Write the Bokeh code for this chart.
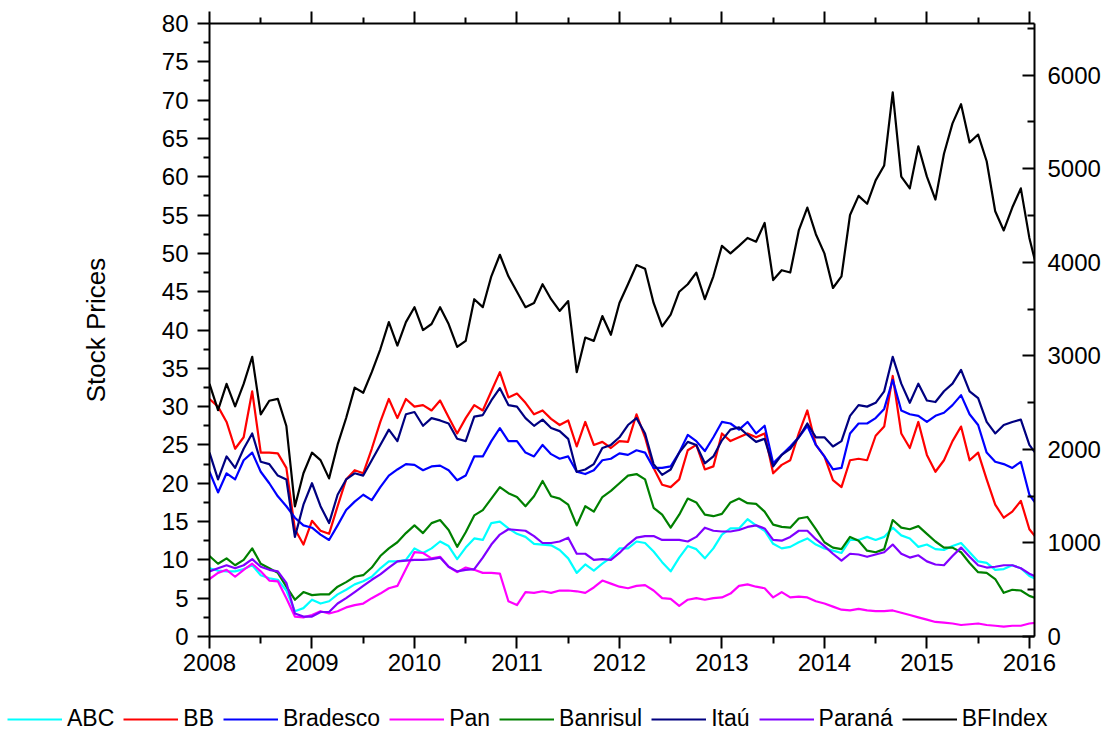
import pandas as pd
from bokeh.plotting import figure
from bokeh.models import (Range1d, LinearAxis, FixedTicker, Legend, LegendItem,
                          CustomJSTickFormatter, BasicTickFormatter)
from bokeh.embed import file_html
from bokeh.resources import INLINE

# monthly sample dates (Jan 2008 .. Feb 2016)
months = pd.date_range("2008-01-01", periods=98, freq="MS")
t = list(months.year + (months.month - 1) / 12.0)

abc = [8.9, 8.6, 8.5, 8.5, 8.8, 9.3, 8.0, 7.6, 7.4, 6.0, 3.3, 3.7, 4.8, 4.3, 4.6, 5.5, 6.1, 6.8, 7.2, 7.8, 8.9, 9.8, 9.8, 10.0, 11.5,
       10.9, 11.5, 12.4, 11.8, 10.1, 11.6, 12.8, 12.6, 14.8, 15.0, 14.1, 13.4, 13.0, 12.1, 12.0, 11.9, 11.3, 10.2, 8.3, 9.4, 8.6, 9.5, 10.3, 11.5,
       11.5, 12.4, 12.2, 11.1, 9.7, 8.5, 10.3, 11.8, 11.4, 10.2, 11.5, 13.3, 14.1, 14.1, 15.3, 14.5, 13.8, 12.1, 11.5, 11.7, 12.3, 12.8, 12.0, 11.5,
       11.2, 10.9, 12.6, 12.6, 13.0, 12.6, 13.0, 14.2, 13.2, 12.8, 11.7, 12.0, 11.4, 11.3, 11.8, 12.2, 11.0, 9.8, 9.6, 8.7, 8.8, 9.3, 8.9, 7.9, 7.4]

bb = [31.0, 30.0, 28.0, 24.5, 26.0, 32.0, 24.0, 24.0, 23.9, 22.0, 14.0, 12.0, 15.1, 13.8, 13.4, 17.0, 20.5, 21.7, 21.3, 24.5, 28.0, 31.0, 28.5, 31.0, 30.0,
      30.2, 29.5, 30.8, 28.6, 26.5, 28.5, 30.2, 29.5, 32.0, 34.5, 31.2, 31.7, 30.5, 29.0, 29.5, 28.4, 27.6, 28.2, 24.8, 28.0, 25.0, 25.4, 24.6, 25.5,
      25.4, 29.0, 26.0, 22.0, 19.8, 19.5, 20.5, 24.3, 25.0, 21.8, 22.2, 26.5, 25.5, 26.0, 26.5, 26.0, 26.5, 21.3, 22.4, 23.0, 26.5, 29.5, 25.0, 23.5,
      20.4, 19.5, 23.0, 23.2, 23.0, 26.2, 27.4, 34.0, 26.5, 24.6, 28.0, 23.7, 21.5, 23.0, 25.5, 27.4, 23.0, 24.0, 20.5, 17.2, 15.5, 16.3, 17.7, 14.0, 12.6]

bradesco = [21.5, 18.8, 21.3, 20.5, 23.0, 24.0, 21.5, 20.0, 18.3, 17.0, 15.5, 14.5, 14.2, 13.3, 12.6, 14.5, 16.5, 17.6, 18.5, 17.8, 19.5, 21.0, 21.8, 22.5, 22.4,
            21.7, 22.2, 22.3, 21.7, 20.4, 21.0, 23.5, 23.5, 25.5, 27.2, 25.5, 25.5, 24.0, 23.5, 25.0, 23.8, 23.2, 23.5, 21.5, 21.2, 21.7, 23.0, 23.2, 23.9,
            23.7, 24.3, 24.0, 22.0, 22.0, 22.2, 24.0, 26.3, 25.5, 24.2, 26.0, 28.0, 27.8, 27.0, 28.0, 26.5, 27.5, 22.6, 23.7, 24.8, 26.0, 27.5, 25.0, 23.5,
            21.8, 22.0, 26.5, 27.8, 27.8, 28.5, 29.7, 33.5, 29.5, 29.0, 28.8, 28.0, 28.8, 29.2, 30.2, 31.5, 29.0, 27.6, 24.0, 22.8, 22.5, 22.0, 22.8, 18.5, 17.0]

pan = [7.5, 8.3, 8.7, 7.8, 8.7, 9.5, 8.5, 7.3, 7.2, 5.0, 2.6, 2.5, 2.8, 3.3, 3.0, 3.3, 3.8, 4.1, 4.3, 5.0, 5.6, 6.3, 6.6, 8.8, 11.0,
       10.9, 10.2, 10.4, 9.1, 8.4, 9.0, 8.7, 8.3, 8.3, 8.2, 4.6, 4.1, 5.8, 5.7, 5.9, 5.7, 6.0, 6.0, 5.9, 5.7, 6.4, 7.3, 6.9, 6.5,
       6.3, 6.6, 6.7, 6.0, 5.0, 4.9, 4.0, 4.8, 5.0, 4.8, 5.0, 5.1, 5.6, 6.6, 6.8, 6.5, 6.3, 5.1, 5.8, 5.1, 5.2, 5.1, 4.6, 4.3,
       3.9, 3.5, 3.4, 3.6, 3.4, 3.3, 3.3, 3.4, 3.1, 2.8, 2.5, 2.2, 1.9, 1.8, 1.7, 1.5, 1.6, 1.7, 1.5, 1.4, 1.3, 1.4, 1.4, 1.7, 1.8]

banrisul = [10.5, 9.5, 10.2, 9.3, 10.0, 11.5, 9.5, 8.9, 8.3, 6.5, 4.8, 5.8, 5.4, 5.5, 5.5, 6.5, 7.1, 7.8, 8.0, 9.0, 10.5, 11.5, 12.3, 13.5, 14.5,
            13.5, 14.8, 15.2, 13.9, 11.7, 13.6, 15.8, 16.5, 18.0, 19.5, 18.7, 18.2, 17.0, 18.3, 20.3, 18.3, 18.0, 17.2, 14.5, 17.0, 16.3, 18.2, 19.0, 20.0,
            21.0, 21.2, 20.5, 16.8, 15.9, 14.2, 15.9, 18.0, 17.5, 15.9, 15.7, 16.0, 17.5, 18.0, 17.4, 17.3, 16.3, 14.6, 14.3, 14.2, 15.4, 15.6, 14.0, 12.3,
            11.6, 11.4, 13.0, 12.5, 11.2, 11.0, 11.4, 15.2, 14.2, 14.0, 14.4, 13.4, 12.4, 11.6, 11.6, 11.0, 9.6, 8.4, 8.3, 7.5, 5.7, 6.1, 6.0, 5.3, 4.9]

itau = [24.0, 20.5, 23.5, 22.0, 24.5, 26.5, 22.8, 22.5, 21.0, 20.5, 13.0, 17.2, 20.0, 17.0, 14.8, 18.5, 20.5, 21.3, 21.0, 23.0, 25.0, 27.0, 25.5, 29.0, 29.3,
        27.5, 28.5, 28.2, 27.8, 25.8, 25.5, 28.7, 28.9, 30.8, 32.4, 30.2, 30.0, 28.5, 27.5, 28.3, 27.2, 26.8, 25.8, 21.5, 21.8, 22.5, 24.6, 25.0, 26.0,
        27.6, 28.5, 26.5, 22.5, 21.1, 21.8, 24.0, 25.4, 25.0, 22.6, 23.5, 25.6, 27.0, 27.3, 26.3, 25.4, 25.8, 22.2, 23.7, 24.5, 26.0, 27.8, 26.0, 26.0,
        24.8, 25.5, 28.8, 30.2, 30.0, 30.5, 32.0, 36.5, 33.0, 30.5, 33.0, 30.8, 30.6, 32.0, 33.0, 34.8, 32.0, 31.1, 28.0, 26.5, 27.6, 28.0, 28.3, 25.0, 23.5]

parana = [8.5, 8.9, 9.3, 8.9, 9.3, 10.1, 9.1, 8.7, 8.5, 7.0, 3.0, 2.6, 2.6, 3.2, 3.2, 4.3, 5.0, 5.8, 6.6, 7.4, 8.1, 9.0, 9.8, 9.9, 10.0,
          10.0, 10.1, 10.3, 9.1, 8.5, 8.7, 8.8, 10.3, 12.0, 13.3, 14.0, 13.9, 13.8, 13.1, 12.2, 12.2, 12.4, 12.9, 10.8, 10.8, 10.0, 10.1, 10.0, 10.9,
          12.0, 12.9, 13.1, 13.1, 12.6, 12.6, 12.6, 12.4, 13.0, 14.2, 13.8, 13.7, 13.7, 13.9, 14.3, 14.5, 14.1, 12.6, 12.5, 13.0, 13.8, 13.8, 12.7, 11.8,
          10.8, 9.9, 10.8, 10.7, 10.4, 10.7, 11.0, 12.0, 10.8, 10.3, 10.6, 9.8, 9.4, 9.3, 10.5, 11.6, 10.4, 9.3, 9.0, 9.1, 9.3, 9.3, 8.9, 8.2, 7.7]

bfindex = [2700, 2420, 2700, 2460, 2700, 2990, 2375, 2520, 2540, 2250, 1390, 1745, 1965, 1885, 1690, 2050, 2335, 2660, 2605, 2825, 3070, 3360, 3110, 3360, 3520,
           3275, 3340, 3520, 3340, 3095, 3160, 3605, 3520, 3850, 4080, 3850, 3685, 3520, 3565, 3765, 3605, 3480, 3585, 2825, 3195, 3160, 3425, 3225, 3565,
           3765, 3970, 3930, 3565, 3315, 3440, 3685, 3765, 3890, 3605, 3850, 4175, 4095, 4175, 4260, 4220, 4420, 3810, 3915, 3890, 4340, 4585, 4300, 4095,
           3725, 3850, 4505, 4710, 4625, 4875, 5035, 5815, 4915, 4790, 5240, 4915, 4670, 5160, 5485, 5690, 5280, 5365, 5080, 4545, 4340, 4585, 4790, 4260, 3890]

names = ["ABC", "BB", "Bradesco", "Pan", "Banrisul", "Itaú", "Paraná", "BFIndex"]
values = [abc, bb, bradesco, pan, banrisul, itau, parana, bfindex]
colors = ["#00FFFF", "#FF0000", "#0000FF", "#FF00FF", "#008000", "#000080", "#8000FF", "#000000"]

year_ticks = list(range(2008, 2017))
half_year_ticks = [y + 0.5 for y in range(2008, 2016)]
left_ticks = list(range(0, 81, 5))
left_minor = [v + 2.5 for v in range(0, 80, 5)]
right_ticks = list(range(0, 6001, 1000))
right_minor = list(range(500, 6600, 1000))

FONT = "Liberation Sans"
LINE_W = 2.2

p = figure(frame_width=825, frame_height=613,
           min_border_left=209, min_border_right=77, min_border_top=23, min_border_bottom=60,
           x_range=Range1d(2008, 2016.05), y_range=Range1d(0, 80),
           x_axis_location=None, y_axis_location=None,
           output_backend="svg", toolbar_location=None)
p.extra_y_ranges = {"bf": Range1d(0, 6552)}
p.outline_line_color = None
p.grid.visible = False
p.background_fill_color = "white"
p.border_fill_color = "white"


def style(ax):
    ax.axis_line_width = 2
    ax.axis_line_color = "black"
    ax.major_tick_line_width = 2
    ax.minor_tick_line_width = 2
    ax.major_tick_line_color = "black"
    ax.minor_tick_line_color = "black"
    ax.major_label_text_font = FONT
    ax.major_label_text_font_size = "24px"
    ax.major_label_text_color = "black"


bottom = LinearAxis(ticker=FixedTicker(ticks=year_ticks, minor_ticks=half_year_ticks),
                    formatter=BasicTickFormatter(use_scientific=False))
style(bottom)
bottom.major_tick_out = 12
bottom.major_tick_in = 0
bottom.minor_tick_out = 7
bottom.minor_tick_in = 0
bottom.major_label_standoff = 5
p.add_layout(bottom, "below")

top = LinearAxis(ticker=FixedTicker(ticks=year_ticks, minor_ticks=half_year_ticks),
                 formatter=CustomJSTickFormatter(code="return ''"))
style(top)
top.major_label_text_font_size = "0px"
top.major_label_standoff = 0
top.major_tick_out = 12
top.major_tick_in = 0
top.minor_tick_out = 6
top.minor_tick_in = 0
p.add_layout(top, "above")

left = LinearAxis(ticker=FixedTicker(ticks=left_ticks, minor_ticks=left_minor),
                  axis_label="Stock Prices")
style(left)
left.major_tick_out = 12
left.major_tick_in = 0
left.minor_tick_out = 6
left.minor_tick_in = 0
left.major_label_standoff = 9
left.axis_label_text_font = FONT
left.axis_label_text_font_size = "26px"
left.axis_label_text_font_style = "normal"
left.axis_label_text_color = "black"
left.axis_label_standoff = 48
p.add_layout(left, "left")

right = LinearAxis(y_range_name="bf",
                   ticker=FixedTicker(ticks=right_ticks, minor_ticks=right_minor),
                   formatter=BasicTickFormatter(use_scientific=False))
style(right)
right.major_tick_in = 12
right.major_tick_out = 0
right.minor_tick_in = 7
right.minor_tick_out = 0
right.major_label_standoff = 13
p.add_layout(right, "right")

for name, vals, col in zip(names, values, colors):
    kw = {"y_range_name": "bf"} if name == "BFIndex" else {}
    p.line(t, vals, line_color=col, line_width=LINE_W, line_join="round", **kw)

# legend strip below the chart (a separate root, so its frame is not aligned with the chart's)
main_h = 23 + 613 + 60
leg_h = 738 - main_h
lf = figure(width=1111, height=leg_h, x_range=Range1d(0, 1), y_range=Range1d(0, 1),
            min_border_left=0, min_border_right=0, min_border_top=0, min_border_bottom=0,
            x_axis_location=None, y_axis_location=None,
            output_backend="svg", toolbar_location=None)
lf.outline_line_color = None
lf.grid.visible = False
lf.background_fill_color = "white"
lf.border_fill_color = "white"

items = []
for name, vals, col in zip(names, values, colors):
    # legend keys only: a one-point line draws nothing in the strip itself
    r = lf.line(x=t[:1], y=vals[:1], line_color=col, line_width=LINE_W)
    items.append(LegendItem(label=name, renderers=[r]))

legend = Legend(items=items, orientation="horizontal", location=(7, leg_h - 22 - 14),
                glyph_width=55, glyph_height=20, label_standoff=5, spacing=9,
                padding=0, margin=0, border_line_color=None, background_fill_alpha=0,
                label_text_font=FONT, label_text_font_size="23px", label_text_color="black")
lf.add_layout(legend)

open("out.html", "w").write(file_html([p, lf], INLINE))
